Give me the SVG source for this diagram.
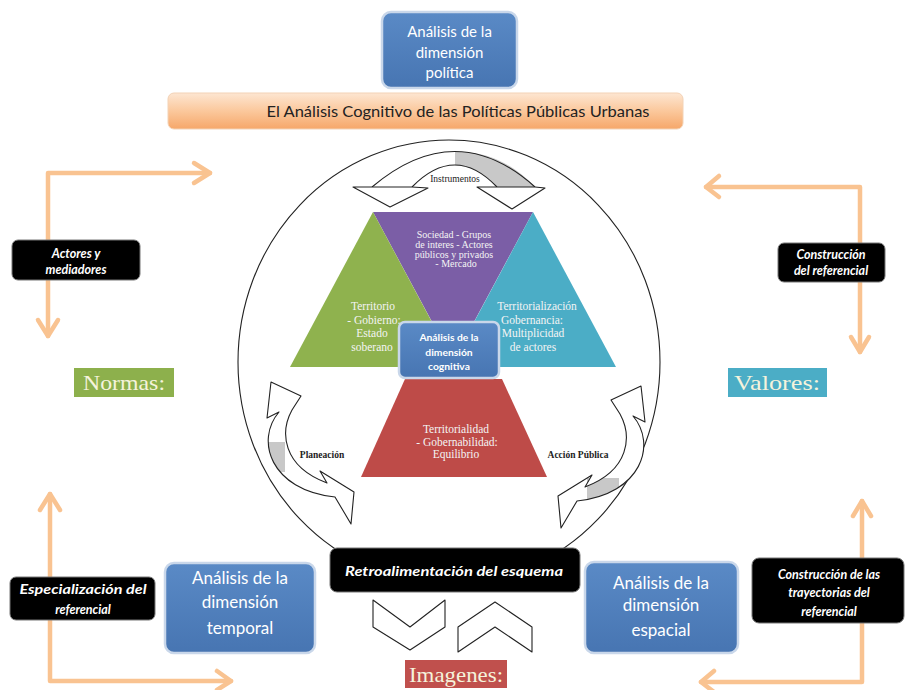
<svg xmlns="http://www.w3.org/2000/svg" width="906" height="690" viewBox="0 0 906 690">
<defs>
<linearGradient id="barGrad" x1="0" y1="0" x2="0" y2="1">
<stop offset="0" stop-color="#fde6d2"/>
<stop offset="0.5" stop-color="#fbc89c"/>
<stop offset="1" stop-color="#f6a76a"/>
</linearGradient>
<linearGradient id="blueGrad" x1="0" y1="0" x2="0" y2="1">
<stop offset="0" stop-color="#5a8ac6"/>
<stop offset="1" stop-color="#4775b2"/>
</linearGradient>
<clipPath id="leftArrowClip"><path id="leftArrowShape" d="M271,382 L301,396 L292,410 C280,432 282,466 327,483 L320,471 L354,492 L351,524 L335,497 C270,490 255,440 279,412 L267,418 Z"/></clipPath>
</defs>
<style>
.blue{fill:url(#blueGrad);stroke:#c9d7ea;stroke-width:2.5}
.bt{font-family:Lato,"Liberation Sans",sans-serif;font-size:15px;fill:#fff;text-anchor:middle}
.bb{font-size:17px}
.cg{font-size:10.3px;font-weight:bold}
.lbl{fill:#000;stroke:#777;stroke-width:1}
.lt{font-family:Lato,"Liberation Sans",sans-serif;font-style:italic;font-weight:bold;font-size:12.5px;fill:#fff;text-anchor:middle}
.conn{fill:none;stroke:#f9c391;stroke-width:4.5;stroke-linecap:round;stroke-linejoin:round}
.tri{font-family:"Liberation Serif",serif;fill:#f4f4f4;text-anchor:middle}
.ol{fill:#fff;stroke:#222;stroke-width:1.1;stroke-linejoin:round}
.tag{font-family:"Liberation Serif",serif;font-size:21px;fill:#f5f3dc;text-anchor:middle}
.small{font-family:"Liberation Serif",serif;font-size:9.5px;font-weight:bold;fill:#222;text-anchor:middle}
.instr{font-family:"Liberation Serif",serif;font-size:9.5px;fill:#222;text-anchor:middle}
</style>
<rect width="906" height="690" fill="#fff"/>

<g id="connectors">
<polyline class="conn" points="210,173 48,173 48,336"/>
<polyline class="conn" points="194,163 210,173 194,183"/>
<polyline class="conn" points="38,320 48,336 58,320"/>
<polyline class="conn" points="706,187 860,187 860,352"/>
<polyline class="conn" points="719,176 706,187 719,197"/>
<polyline class="conn" points="851,337 860,352 869,337"/>
<polyline class="conn" points="50,494 50,681 231,681"/>
<polyline class="conn" points="40,510 50,494 60,510"/>
<polyline class="conn" points="217,671 231,681 217,690"/>
<polyline class="conn" points="862,501 862,682 701,682"/>
<polyline class="conn" points="853,516 862,501 871,516"/>
<polyline class="conn" points="714,671 701,682 714,692"/>
</g>

<g id="politica">
<rect class="blue" x="382" y="12" width="135" height="76" rx="9"/>
<text class="bt" x="449.5" y="37">Análisis de la</text>
<text class="bt" x="449.5" y="58">dimensión</text>
<text class="bt" x="449.5" y="78">política</text>
</g>

<g id="titulo">
<rect x="168" y="93" width="515" height="36" rx="6" fill="url(#barGrad)" stroke="#f3d2b5" stroke-width="1"/>
<text x="458" y="117" font-family="Lato,'Liberation Sans',sans-serif" font-size="16" fill="#222" text-anchor="middle" textLength="383" lengthAdjust="spacingAndGlyphs">El Análisis Cognitivo de las Políticas Públicas Urbanas</text>
</g>

<g id="circulo">
<ellipse cx="449" cy="362" rx="211" ry="222" fill="none" stroke="#222" stroke-width="1.1"/>
</g>

<g id="instrumentos">
<path d="M372,187 Q456,116 535,187 L497,187 Q455,143 412,187 Z" fill="#fff" stroke="none"/>
<path d="M455,152 Q500,150 535,187 L497,187 Q482,168 455,165 Z" fill="#c8c8c8"/>
<path d="M372,187 Q456,116 535,187 M412,187 Q455,143 497,187" fill="none" stroke="#222" stroke-width="1.1"/>
<path class="ol" d="M353,187 L372,187 L412,187 L428,188 L390,207 Z"/>
<path class="ol" d="M477,187 L497,187 L535,187 L545,188 L512,209 Z"/>
<text class="instr" x="455" y="182">Instrumentos</text>
</g>

<g id="planeacion">
<use href="#leftArrowShape" fill="#fff"/>
<rect x="255" y="442" width="30" height="30" fill="#c8c8c8" clip-path="url(#leftArrowClip)"/>
<use href="#leftArrowShape" fill="none" stroke="#222" stroke-width="1.1" stroke-linejoin="round"/>
<text class="small" x="322" y="458">Planeación</text>
</g>

<g id="accion">
<g transform="translate(912,4) scale(-1,1)">
<use href="#leftArrowShape" fill="#fff"/>
<rect x="293" y="474" width="32" height="28" fill="#c8c8c8" clip-path="url(#leftArrowClip)"/>
<use href="#leftArrowShape" fill="none" stroke="#222" stroke-width="1.1" stroke-linejoin="round"/>
</g>
<text class="small" x="578" y="458">Acción Pública</text>
</g>

<g id="sociedad">
<polygon points="373,212 533,212 453,361" fill="#7b5ea6"/>
<text class="tri" font-size="10" x="454" y="238">Sociedad - Grupos</text>
<text class="tri" font-size="10" x="454" y="248">de interes - Actores</text>
<text class="tri" font-size="10" x="454" y="257.5">públicos y privados</text>
<text class="tri" font-size="10" x="456" y="267">- Mercado</text>
</g>

<g id="territorio">
<polygon points="373,212 456,367 290,367" fill="#8fb24e"/>
<text class="tri" font-size="11.5" x="373" y="310">Territorio</text>
<text class="tri" font-size="11.5" x="374" y="323.5">- Gobierno:</text>
<text class="tri" font-size="11.5" x="372" y="337">Estado</text>
<text class="tri" font-size="11.5" x="372" y="350.5">soberano</text>
</g>

<g id="territorializacion">
<polygon points="533,212 616,367 450,367" fill="#4badc6"/>
<text class="tri" font-size="11.5" x="537" y="310">Territorialización</text>
<text class="tri" font-size="11.5" x="532" y="323.5">Gobernancia:</text>
<text class="tri" font-size="11.5" x="533" y="337">Multiplicidad</text>
<text class="tri" font-size="11.5" x="533" y="350.5">de actores</text>
</g>

<g id="territorialidad">
<polygon points="405,379 502,379 547,477 361,477" fill="#be4b48"/>
<text class="tri" font-size="11.5" x="456" y="433">Territorialidad</text>
<text class="tri" font-size="11.5" x="457" y="446">- Gobernabilidad:</text>
<text class="tri" font-size="11.5" x="456" y="458">Equilibrio</text>
</g>

<g id="cognitiva">
<rect class="blue" x="399" y="322" width="100" height="56" rx="6"/>
<text class="bt cg" x="449" y="341">Análisis de la</text>
<text class="bt cg" x="449" y="355.5">dimensión</text>
<text class="bt cg" x="449" y="370">cognitiva</text>
</g>

<g id="actores">
<rect class="lbl" x="12" y="240" width="128" height="40" rx="6"/>
<text class="lt" x="76" y="258">Actores y</text>
<text class="lt" x="76" y="274">mediadores</text>
</g>

<g id="construccion">
<rect class="lbl" x="778" y="243" width="107" height="39" rx="6"/>
<text class="lt" x="831" y="259">Construcción</text>
<text class="lt" x="831" y="275">del referencial</text>
</g>

<g id="normas">
<rect x="74" y="368" width="100" height="29" fill="#8db04c"/>
<text class="tag" x="124" y="390" textLength="82" lengthAdjust="spacingAndGlyphs">Normas:</text>
</g>

<g id="valores">
<rect x="728" y="368" width="99" height="29" fill="#4badc6"/>
<text class="tag" x="777" y="390" textLength="86" lengthAdjust="spacingAndGlyphs">Valores:</text>
</g>

<g id="especializacion">
<rect class="lbl" x="10" y="577" width="145" height="43" rx="6"/>
<text class="lt" font-size="13" x="83" y="594" textLength="127" lengthAdjust="spacingAndGlyphs">Especialización del</text>
<text class="lt" font-size="13" x="83" y="614">referencial</text>
</g>

<g id="temporal">
<rect class="blue" x="165" y="563" width="150" height="90" rx="9"/>
<text class="bt bb" x="240" y="584">Análisis de la</text>
<text class="bt bb" x="240" y="608">dimensión</text>
<text class="bt bb" x="240" y="634">temporal</text>
</g>

<g id="retroalimentacion">
<rect class="lbl" x="330" y="548" width="250" height="44" rx="7"/>
<text class="lt" font-size="15" x="454" y="576" textLength="218" lengthAdjust="spacingAndGlyphs">Retroalimentación del esquema</text>
</g>

<g id="chevrons">
<polygon class="ol" points="373,600 410,627 445,600 445,627 410,650 373,627"/>
<polygon class="ol" points="458,627 495,602 532,627 532,652 495,627 458,652"/>
</g>

<g id="imagenes">
<rect x="405" y="660" width="102" height="28" fill="#c0504d"/>
<text class="tag" x="456" y="682" textLength="94" lengthAdjust="spacingAndGlyphs">Imagenes:</text>
</g>

<g id="espacial">
<rect class="blue" x="585" y="562" width="153" height="91" rx="9"/>
<text class="bt bb" x="661" y="589">Análisis de la</text>
<text class="bt bb" x="661" y="611">dimensión</text>
<text class="bt bb" x="661" y="636">espacial</text>
</g>

<g id="trayectorias">
<rect class="lbl" x="752" y="558" width="152" height="65" rx="7"/>
<text class="lt" x="829" y="579">Construcción de las</text>
<text class="lt" x="829" y="597">trayectorias del</text>
<text class="lt" x="829" y="616">referencial</text>
</g>
</svg>
